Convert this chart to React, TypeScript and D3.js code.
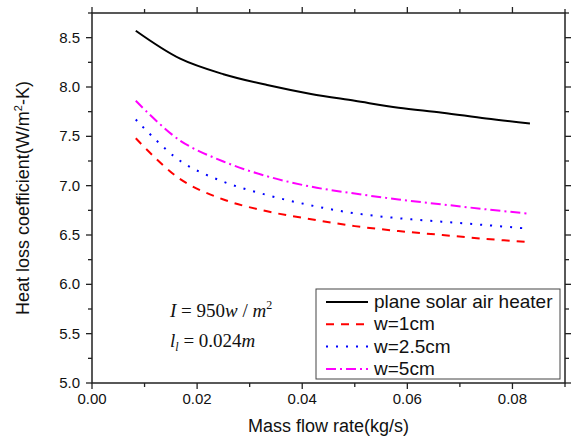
import React from "react";
import * as d3 from "d3";

const massFlow = [0.00833, 0.01667, 0.025, 0.03333, 0.04167, 0.05, 0.05833, 0.06667, 0.075, 0.08333];
const plane = [8.57, 8.29, 8.13, 8.02, 7.93, 7.86, 7.79, 7.74, 7.68, 7.63];
const w1 = [7.48, 7.07, 6.86, 6.74, 6.66, 6.59, 6.54, 6.5, 6.46, 6.427];
const w25 = [7.67, 7.255, 7.04, 6.905, 6.8, 6.72, 6.67, 6.635, 6.6, 6.563];
const w5 = [7.86, 7.46, 7.245, 7.095, 6.99, 6.92, 6.86, 6.81, 6.76, 6.715];
const seriesNames = ["plane solar air heater", "w=1cm", "w=2.5cm", "w=5cm"];
const xTicks = [0, 0.02, 0.04, 0.06, 0.08];
const yTicks = [5.0, 5.5, 6.0, 6.5, 7.0, 7.5, 8.0, 8.5];

const W = 573, H = 439;
const m = { left: 92, right: 565, top: 13, bottom: 383 };

export default function App() {
  const x = d3.scaleLinear().domain([0, 0.09]).range([m.left, m.right]);
  const y = d3.scaleLinear().domain([5.0, 8.75]).range([m.bottom, m.top]);
  const line = d3.line<[number, number]>().x(d => x(d[0])).y(d => y(d[1])).curve(d3.curveCatmullRom.alpha(0.5));
  const series = [
    { name: seriesNames[0], vals: plane, color: "#000000", dash: "" },
    { name: seriesNames[1], vals: w1, color: "#ff0000", dash: "8,7" },
    { name: seriesNames[2], vals: w25, color: "#0000ff", dash: "2,8" },
    { name: seriesNames[3], vals: w5, color: "#ff00ff", dash: "10,4,2,4" },
  ];
  const xMinor = d3.range(0, 0.0901, 0.01);
  const yMinor = d3.range(5.0, 8.751, 0.25);
  const font = "Arial, 'Liberation Sans', sans-serif";
  const serif = "'Times New Roman', 'Liberation Serif', serif";
  const ax = "#222";
  const legX = 316, legY = 289, legW = 244, legH = 90;
  return (
    <svg width={W} height={H} style={{ position: "absolute", left: 0, top: 0, background: "#fff" }}>
      <rect x={0} y={0} width={W} height={H} fill="#fff" />
      {series.map((s, i) => (
        <path key={i} d={line(massFlow.map((v, j) => [v, s.vals[j]]) as [number, number][]) || ""}
          fill="none" stroke={s.color} strokeWidth={2} strokeDasharray={s.dash} />
      ))}
      {/* frame */}
      <rect x={m.left} y={m.top} width={m.right - m.left} height={m.bottom - m.top} fill="none" stroke={ax} strokeWidth={1.5} />
      {/* x ticks */}
      {xMinor.map((t, i) => {
        const major = Math.abs(Math.round(t * 100) % 2) === 0;
        const len = major ? 6 : 4;
        return (
          <g key={"xt" + i}>
            <line x1={x(t)} x2={x(t)} y1={m.bottom} y2={m.bottom + len} stroke={ax} strokeWidth={1.3} />
            <line x1={x(t)} x2={x(t)} y1={m.top} y2={m.top - len} stroke={ax} strokeWidth={1.3} />
          </g>
        );
      })}
      {yMinor.map((t, i) => {
        const major = i % 2 === 0;
        const len = major ? 6 : 4;
        return (
          <g key={"yt" + i}>
            <line x1={m.left} x2={m.left - len} y1={y(t)} y2={y(t)} stroke={ax} strokeWidth={1.3} />
            <line x1={m.right} x2={m.right + len} y1={y(t)} y2={y(t)} stroke={ax} strokeWidth={1.3} />
          </g>
        );
      })}
      {xTicks.map((t, i) => (
        <text key={"xl" + i} x={x(t)} y={m.bottom + 21} textAnchor="middle" fontFamily={font} fontSize={15} fill="#111">
          {t.toFixed(2)}
        </text>
      ))}
      {yTicks.map((t, i) => (
        <text key={"yl" + i} x={m.left - 12} y={y(t) + 5} textAnchor="end" fontFamily={font} fontSize={15} fill="#111">
          {t.toFixed(1)}
        </text>
      ))}
      <text x={(m.left + m.right) / 2} y={432} textAnchor="middle" fontFamily={font} fontSize={18} fill="#111">
        Mass flow rate(kg/s)
      </text>
      <text transform={`translate(29,${(m.top + m.bottom) / 2}) rotate(-90)`} textAnchor="middle" fontFamily={font} fontSize={18} fill="#111">
        Heat loss coefficient(W/m<tspan fontSize={11} dy={-7}>2</tspan><tspan dy={7}>-K)</tspan>
      </text>
      {/* annotation */}
      <text x={170} y={317} fontFamily={serif} fontSize={19} fill="#111">
        <tspan fontStyle="italic">I</tspan> = 950<tspan fontStyle="italic">w</tspan> / <tspan fontStyle="italic">m</tspan>
        <tspan fontSize={12} dy={-8}>2</tspan>
      </text>
      <text x={170} y={347} fontFamily={serif} fontSize={19} fill="#111">
        <tspan fontStyle="italic">l</tspan><tspan fontStyle="italic" fontSize={12} dy={4}>l</tspan>
        <tspan dy={-4}> = 0.024</tspan><tspan fontStyle="italic">m</tspan>
      </text>
      {/* legend */}
      <rect x={legX} y={legY} width={legW} height={legH} fill="#fff" stroke="#444" strokeWidth={1} />
      {series.map((s, i) => {
        const cy = legY + 13 + i * 22.3;
        return (
          <g key={"lg" + i}>
            <line x1={legX + 10} x2={legX + 52} y1={cy} y2={cy} stroke={s.color} strokeWidth={2} strokeDasharray={s.dash} />
            <text x={legX + 58} y={cy + 6} fontFamily={font} fontSize={19} fill="#111">{s.name}</text>
          </g>
        );
      })}
    </svg>
  );
}
